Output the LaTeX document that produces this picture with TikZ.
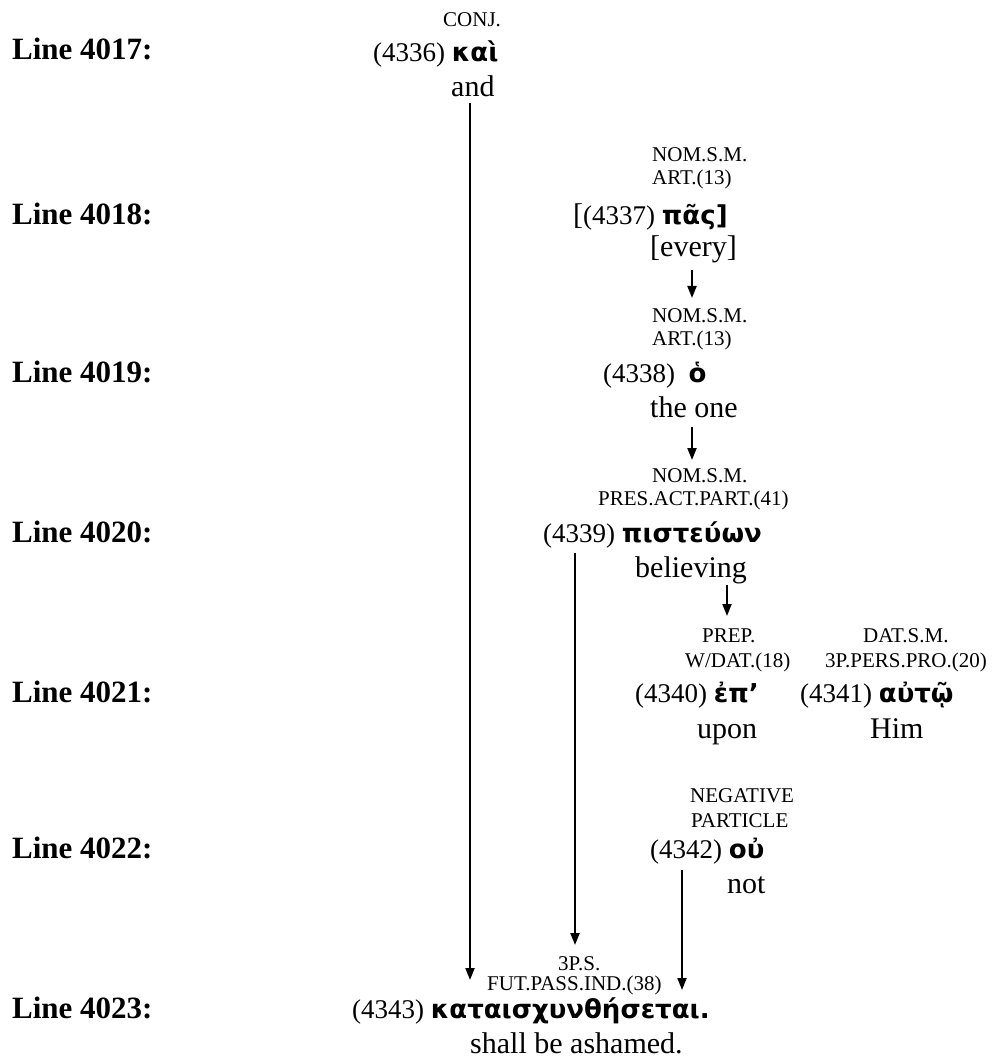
\documentclass[tikz,border=0pt]{standalone}
\usepackage{fontspec}
\setmainfont{Liberation Serif}
\newfontfamily\grk{DejaVu Sans}
\usetikzlibrary{arrows.meta}
\newcommand\gk[1]{{\grk\bfseries\fontsize{26}{26}\selectfont #1}}
\begin{document}
\begin{tikzpicture}[x=1pt,y=-1pt,
  lbl/.style={font=\bfseries\fontsize{31}{31}\selectfont, anchor=base west, inner sep=0pt},
  tag/.style={font=\fontsize{21}{21}\selectfont, anchor=base west, inner sep=0pt},
  wrd/.style={font=\fontsize{27}{27}\selectfont, anchor=base west, inner sep=0pt},
  gls/.style={font=\fontsize{30}{30}\selectfont, anchor=base west, inner sep=0pt},
  arr/.style={line width=2pt, -{Triangle[width=9pt,length=12pt]}}]
\useasboundingbox (0,0) rectangle (994,1064);
% line labels
\node[lbl] (L17) at (12,60) {Line 4017:};
\node[lbl] (L18) at (12,225) {Line 4018:};
\node[lbl] (L19) at (12,382) {Line 4019:};
\node[lbl] (L20) at (12,542) {Line 4020:};
\node[lbl] (L21) at (12,702) {Line 4021:};
\node[lbl] (L22) at (12,858) {Line 4022:};
\node[lbl] (L23) at (12,1018) {Line 4023:};
% 4017
\node[tag] (t17) at (443,27) {CONJ.};
\node[wrd] (w17) at (373,62) {(4336) \gk{καὶ}};
\node[gls] (g17) at (451,97) {and};
% 4018
\node[tag] (t18a) at (652,162) {NOM.S.M.};
\node[tag] (t18b) at (652,185) {ART.(13)};
\node[wrd] (w18) at (573,225) {{\fontsize{30}{30}\selectfont[}(4337) \gk{πᾶς]}};
\node[gls] (g18) at (650,257) {[every]};
% 4019
\node[tag] (t19a) at (652,322) {NOM.S.M.};
\node[tag] (t19b) at (652,345) {ART.(13)};
\node[wrd] (w19) at (603,382) {(4338)\ \ \gk{ὁ}};
\node[gls] (g19) at (650,417) {the one};
% 4020
\node[tag] (t20a) at (652,482) {NOM.S.M.};
\node[tag] (t20b) at (598,505) {PRES.ACT.PART.(41)};
\node[wrd] (w20) at (543,542) {(4339) \gk{πιστεύων}};
\node[gls] (g20) at (635,577) {believing};
% 4021
\node[tag] (t21a) at (702,642) {PREP.};
\node[tag] (t21b) at (685,667) {W/DAT.(18)};
\node[wrd] (w21) at (635,702) {(4340) \gk{ἐπ’}};
\node[gls] (g21) at (697,738) {upon};
\node[tag] (t21c) at (863,642) {DAT.S.M.};
\node[tag] (t21d) at (825,667) {3P.PERS.PRO.(20)};
\node[wrd] (w21b) at (800,702) {(4341) \gk{αὐτῷ}};
\node[gls] (g21b) at (870,738) {Him};
% 4022
\node[tag] (t22a) at (690,802) {NEGATIVE};
\node[tag] (t22b) at (691,827) {PARTICLE};
\node[wrd] (w22) at (650,858) {(4342) \gk{οὐ}};
\node[gls] (g22) at (727,893) {not};
% 4023
\node[tag] (t23a) at (558,970) {3P.S.};
\node[tag] (t23b) at (487,990) {FUT.PASS.IND.(38)};
\node[wrd] (w23) at (352,1018) {(4343) \gk{καταισχυνθήσεται.}};
\node[gls] (g23) at (470,1053) {shall be ashamed.};
% connectors
\coordinate (a1s) at (470,103); \coordinate (a1e) at (470,980);
\coordinate (a2s) at (692,270); \coordinate (a2e) at (692,298);
\coordinate (a3s) at (692,427); \coordinate (a3e) at (692,460);
\coordinate (a4s) at (727,585); \coordinate (a4e) at (727,616);
\coordinate (a5s) at (575,553); \coordinate (a5e) at (575,945);
\coordinate (a6s) at (682,870); \coordinate (a6e) at (682,990);
\draw[arr] (a1s) -- (a1e);
\draw[arr] (a2s) -- (a2e);
\draw[arr] (a3s) -- (a3e);
\draw[arr] (a4s) -- (a4e);
\draw[arr] (a5s) -- (a5e);
\draw[arr] (a6s) -- (a6e);
\end{tikzpicture}
\end{document}
